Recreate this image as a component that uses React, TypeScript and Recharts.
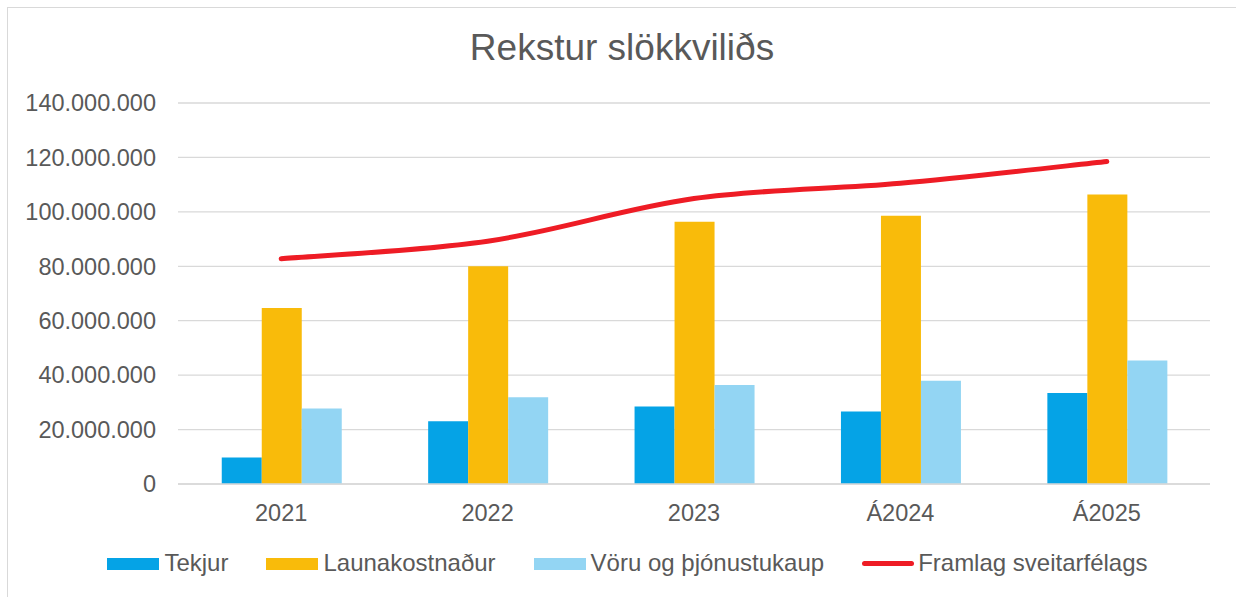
import React from "react";
import { ComposedChart, Bar, Line, XAxis, YAxis, CartesianGrid, Legend } from "recharts";

const years = ["2021", "2022", "2023", "Á2024", "Á2025"];
const tekjur = [9700000, 23100000, 28500000, 26600000, 33400000];
const launakostnadur = [64700000, 80000000, 96400000, 98600000, 106400000];
const voruKaup = [27700000, 31900000, 36400000, 37900000, 45400000];
const framlag = [82800000, 89200000, 104900000, 110500000, 118500000];
const yTicks = [0, 20000000, 40000000, 60000000, 80000000, 100000000, 120000000, 140000000];
const legendOrder = ["Tekjur", "Launakostnaður", "Vöru og þjónustukaup", "Framlag sveitarfélags"];

const data = years.map((year, i) => ({
  year,
  tekjur: tekjur[i],
  launakostnadur: launakostnadur[i],
  voruKaup: voruKaup[i],
  framlag: framlag[i],
}));

const FONT = '"Liberation Sans", Arial, sans-serif';
const TEXT = "#595959";

const fmt = (v: number) => String(v).replace(/\B(?=(\d{3})+(?!\d))/g, ".");

// Excel-style smoothed line (Catmull-Rom through the points)
function smoothCurve(context: any) {
  let pts: number[][] = [];
  return {
    areaStart() {},
    areaEnd() {},
    lineStart() {
      pts = [];
    },
    point(x: number, y: number) {
      pts.push([+x, +y]);
    },
    lineEnd() {
      if (!pts.length) return;
      context.moveTo(pts[0][0], pts[0][1]);
      for (let i = 0; i < pts.length - 1; i++) {
        const p0 = pts[i - 1] || pts[i];
        const p1 = pts[i];
        const p2 = pts[i + 1];
        const p3 = pts[i + 2] || p2;
        context.bezierCurveTo(
          p1[0] + (p2[0] - p0[0]) / 6,
          p1[1] + (p2[1] - p0[1]) / 6,
          p2[0] - (p3[0] - p1[0]) / 6,
          p2[1] - (p3[1] - p1[1]) / 6,
          p2[0],
          p2[1]
        );
      }
    },
  };
}

function ChartLegend({ payload }: any) {
  const items = [...(payload || [])].sort(
    (a: any, b: any) => legendOrder.indexOf(a.value) - legendOrder.indexOf(b.value)
  );
  return (
    <div
      style={{
        display: "flex",
        justifyContent: "center",
        paddingLeft: 19,
        fontFamily: FONT,
        fontSize: 24,
        color: TEXT,
        lineHeight: "30px",
      }}
    >
      {items.map((p: any, i: number) => (
        <div key={i} style={{ display: "flex", alignItems: "center", marginRight: i < 3 ? 38 : 0 }}>
          {p.type === "line" ? (
            <span style={{ width: 52, height: 5, borderRadius: 3, background: p.color, marginRight: 4 }} />
          ) : (
            <span style={{ width: 52, height: 12, background: p.color, marginRight: 5, marginTop: 2 }} />
          )}
          <span>{p.value}</span>
        </div>
      ))}
    </div>
  );
}

export default function App() {
  return (
    <div style={{ position: "relative", width: 1236, height: 597, overflow: "hidden", background: "#fff" }}>
      <style>{`body { margin: 0; }`}</style>
      <div
        style={{
          position: "absolute",
          left: 7,
          top: 7,
          width: 1260,
          height: 620,
          border: "1px solid #d9d9d9",
          boxSizing: "border-box",
        }}
      />
      <div
        style={{
          position: "absolute",
          top: 28,
          left: 0,
          width: 1244,
          textAlign: "center",
          fontFamily: FONT,
          fontSize: 37,
          lineHeight: "40px",
          color: TEXT,
        }}
      >
        Rekstur slökkviliðs
      </div>
      <div style={{ position: "absolute", left: 0, top: 0 }}>
        <ComposedChart
          width={1236}
          height={597}
          data={data}
          margin={{ top: 103, right: 26, left: 0, bottom: 0 }}
          barCategoryGap="21.2%"
          barGap={0}
        >
          <CartesianGrid vertical={false} stroke="#d9d9d9" strokeWidth={1.3} />
          <XAxis
            dataKey="year"
            height={64}
            tickSize={0}
            tickMargin={20}
            axisLine={{ stroke: "#d9d9d9", strokeWidth: 1.3 }}
            tickLine={false}
            tick={{ fill: TEXT, fontSize: 23.5, fontFamily: FONT }}
          />
          <YAxis
            width={178}
            domain={[0, 140000000]}
            ticks={yTicks}
            tickFormatter={fmt}
            tickSize={0}
            tickMargin={22}
            axisLine={false}
            tickLine={false}
            tick={{ fill: TEXT, fontSize: 23.5, fontFamily: FONT }}
          />
          <Legend
            verticalAlign="bottom"
            height={49}
            wrapperStyle={{ left: 0, width: 1236, top: 548 }}
            content={<ChartLegend />}
          />
          <Bar dataKey="tekjur" name="Tekjur" fill="#05a3e6" legendType="rect" isAnimationActive={false} />
          <Bar dataKey="launakostnadur" name="Launakostnaður" fill="#f9bb0a" legendType="rect" isAnimationActive={false} />
          <Bar dataKey="voruKaup" name="Vöru og þjónustukaup" fill="#93d5f3" legendType="rect" isAnimationActive={false} />
          <Line
            dataKey="framlag"
            name="Framlag sveitarfélags"
            type={smoothCurve as any}
            stroke="#ee1c25"
            strokeWidth={5}
            strokeLinecap="round"
            dot={false}
            activeDot={false}
            legendType="line"
            isAnimationActive={false}
          />
        </ComposedChart>
      </div>
    </div>
  );
}
